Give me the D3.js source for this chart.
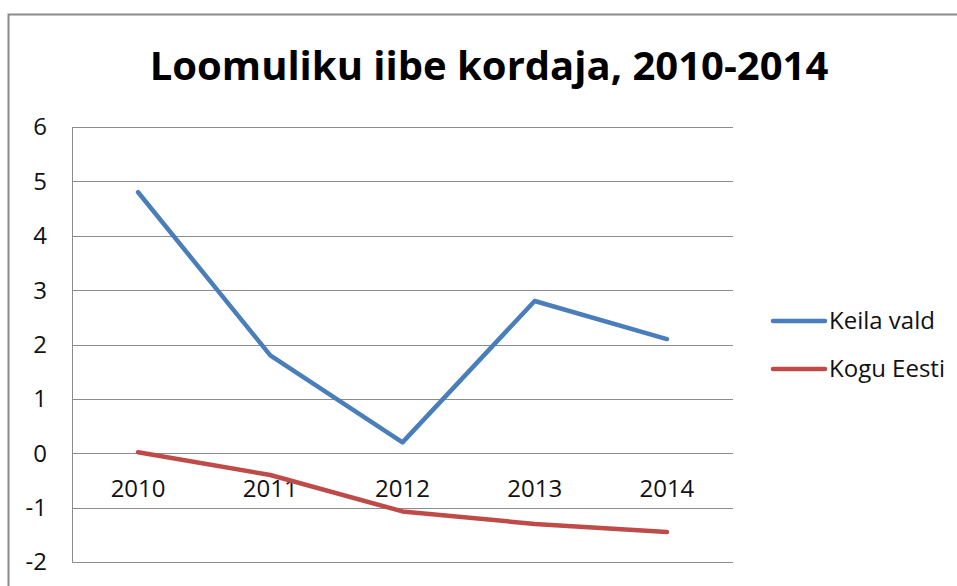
<!DOCTYPE html>
<html>
<head>
<meta charset="utf-8">
<script src="https://cdn.jsdelivr.net/npm/d3@7"></script>
<style>
  body { margin: 0; background: #fff; }
  text { font-family: "Open Sans", "Noto Sans", sans-serif; fill: #111; }
</style>
</head>
<body>
<script>
const width = 957,
    height = 586;

const years = ['2010', '2011', '2012', '2013', '2014'];
const keilaVald = [4.8, 1.8, 0.2, 2.8, 2.1];
const koguEesti = [0.02, -0.4, -1.07, -1.3, -1.45];
const yTicks = [-2, -1, 0, 1, 2, 3, 4, 5, 6];
const seriesNames = ['Keila vald', 'Kogu Eesti'];
const seriesColors = ['#4a7ebb', '#be4b48'];

var svg = d3.select('body').append('svg')
    .attr('width', width)
    .attr('height', height);

// chart frame
svg.append('rect')
    .attr('x', 8.5).attr('y', 14.5)
    .attr('width', 1000).attr('height', 1000)
    .attr('fill', 'none')
    .attr('stroke', '#8a8a8a')
    .attr('stroke-width', 2);

svg.append('text')
    .attr('x', 489)
    .attr('y', 80)
    .attr('text-anchor', 'middle')
    .style('font-size', '40px')
    .style('font-weight', 'bold')
    .style('fill', '#000')
    .text('Loomuliku iibe kordaja, 2010-2014');

var x = d3.scaleBand().domain(years).range([72, 733]);
var y = d3.scaleLinear().domain([-2, 6]).range([562, 127]);

// gridlines
svg.append('g')
    .selectAll('line')
    .data(yTicks)
  .enter().append('line')
    .attr('x1', 72).attr('x2', 733)
    .attr('y1', d => Math.round(y(d)) + 0.5)
    .attr('y2', d => Math.round(y(d)) + 0.5)
    .attr('stroke', '#8c8c8c');

svg.append('line')
    .attr('x1', 72.5).attr('x2', 72.5)
    .attr('y1', y(6)).attr('y2', y(-2))
    .attr('stroke', '#8c8c8c');

// y labels
svg.append('g')
    .selectAll('text')
    .data(yTicks)
  .enter().append('text')
    .attr('x', 47)
    .attr('y', d => y(d))
    .attr('dy', '0.35em')
    .attr('text-anchor', 'end')
    .style('font-size', '24px')
    .text(d => d);

// x labels, hung below the zero line
svg.append('g')
    .selectAll('text')
    .data(years)
  .enter().append('text')
    .attr('x', d => x(d) + x.bandwidth() / 2)
    .attr('y', y(0) + 43.5)
    .attr('text-anchor', 'middle')
    .style('font-size', '24px')
    .text(d => d);

var line = d3.line()
    .x((d, i) => x(years[i]) + x.bandwidth() / 2)
    .y(d => y(d));

[keilaVald, koguEesti].forEach((vals, i) => {
    svg.append('path')
        .attr('d', line(vals))
        .attr('fill', 'none')
        .attr('stroke', seriesColors[i])
        .attr('stroke-width', 4.5)
        .attr('stroke-linejoin', 'round')
        .attr('stroke-linecap', 'round');
});

// legend
var legend = svg.append('g')
    .selectAll('g')
    .data(seriesNames)
  .enter().append('g')
    .attr('transform', (d, i) => 'translate(772,' + (321 + i * 48) + ')');

legend.append('line')
    .attr('x1', 1).attr('x2', 53)
    .attr('stroke', (d, i) => seriesColors[i])
    .attr('stroke-width', 4.5)
    .attr('stroke-linecap', 'round');

legend.append('text')
    .attr('x', 57)
    .attr('dy', '0.35em')
    .style('font-size', '24px')
    .text(d => d);
</script>
</body>
</html>
